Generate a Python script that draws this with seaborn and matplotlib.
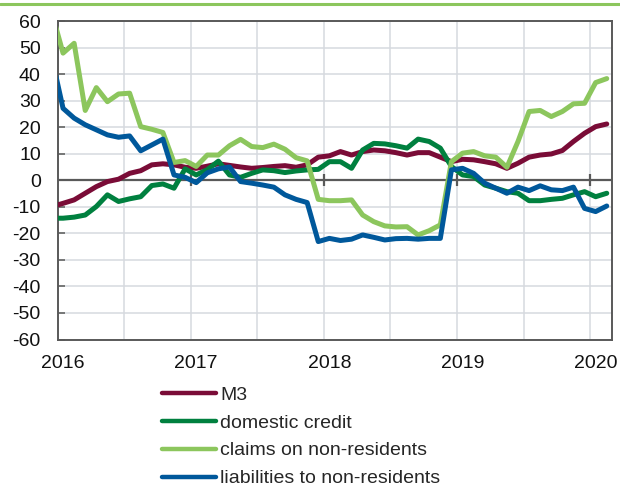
import numpy as np
import pandas as pd
import matplotlib
matplotlib.use("Agg")
import matplotlib.pyplot as plt
from matplotlib.lines import Line2D
import seaborn as sns

# ---------------- data (monthly, Dec 2015 .. Feb 2020) ----------------
months = pd.date_range("2015-12-01", "2020-02-01", freq="MS").strftime("%Y-%m").tolist()

m3 = [-9.9, -8.7, -7.4, -4.9, -2.4, -0.5, 0.4, 2.6, 3.6, 5.8, 6.2, 5.8, 4.9,
      4.5, 5.3, 6.2, 5.6, 5.0, 4.5, 4.8, 5.2, 5.5, 4.9, 5.8, 8.7,
      9.2, 10.8, 9.5, 10.8, 11.4, 11.1, 10.4, 9.5, 10.4, 10.4, 8.7, 7.0,
      7.9, 7.7, 7.0, 6.2, 4.5, 6.4, 8.7, 9.5, 9.9, 11.2, 14.6, 17.7,
      20.2, 21.2]
domestic_credit = [-14.3, -14.3, -13.9, -13.1, -9.9, -5.5, -8.0, -7.0, -6.2, -2.0, -1.4, -3.0, 4.3,
                   2.0, 4.0, 7.2, 2.0, 1.1, 2.6, 3.9, 3.6, 2.9, 3.5, 3.9, 4.1,
                   7.0, 7.0, 4.5, 11.4, 13.9, 13.7, 13.0, 12.1, 15.5, 14.6, 12.1, 5.2,
                   2.0, 1.4, -1.8, -3.0, -4.3, -4.9, -7.7, -7.7, -7.2, -6.8, -5.5, -4.3,
                   -6.2, -4.9]
claims_non_res = [63.0, 47.9, 51.6, 26.3, 34.9, 29.6, 32.5, 32.8, 20.2, 19.2, 18.0, 6.7, 7.4,
                  5.2, 9.5, 9.5, 13.0, 15.4, 12.7, 12.3, 13.6, 11.7, 8.5, 7.3, -7.2,
                  -7.7, -7.7, -7.4, -13.1, -15.6, -17.2, -17.6, -17.5, -20.6, -19.0, -16.8, 7.0,
                  10.2, 10.8, 9.2, 8.7, 4.9, 14.6, 25.9, 26.3, 24.0, 25.9, 28.8, 29.0,
                  36.8, 38.3]
liabilities_non_res = [46.0, 27.1, 23.4, 20.9, 19.0, 17.1, 16.2, 16.7, 11.1, 13.3, 15.5, 2.0, 1.1,
                       -0.9, 2.8, 4.3, 5.0, -0.5, -1.1, -1.8, -2.6, -5.5, -7.2, -8.4, -23.1,
                       -21.9, -22.7, -22.2, -20.6, -21.5, -22.5, -22.0, -21.9, -22.2, -21.9, -21.9, 3.9,
                       4.5, 2.6, -1.1, -3.0, -4.9, -2.6, -3.9, -2.1, -3.6, -3.9, -2.6, -10.6,
                       -11.8, -9.7]

series_names = ["M3", "domestic credit", "claims on non-residents", "liabilities to non-residents"]
series_values = [m3, domestic_credit, claims_non_res, liabilities_non_res]
series_colors = ["#7a0c37", "#00803f", "#8cc65d", "#00589b"]

y_ticks = list(range(-60, 61, 10))
year_labels = ["2016", "2017", "2018", "2019", "2020"]

# ---------------- build frame ----------------
# x position = category index, Jan 2016 = 0
xpos = np.arange(len(months)) - 1
df = pd.concat([pd.DataFrame({"x": xpos, "value": v, "series": n})
                for n, v in zip(series_names, series_values)], ignore_index=True)

sns.set_style("white")
plt.rcParams["font.family"] = ["Liberation Sans", "DejaVu Sans"]

W, H = 620, 487
fig = plt.figure(figsize=(W / 100, H / 100), dpi=100)
L, R, T, B = 57.5, 612.3, 21.0, 339.5
ax = fig.add_axes([L / W, 1 - B / H, (R - L) / W, (B - T) / H])

grid_col = "#d6dadf"
axis_col = "#595959"

# vertical gridlines at half-year category boundaries
year_starts = [months.index(y + "-01") - 1 for y in year_labels]
half_years = [p + 6 for p in year_starts[:-1]] + year_starts[1:]
for gx in sorted(half_years):
    ax.axvline(gx - 0.5, color=grid_col, lw=1.1, zorder=0)

for name, col in zip(series_names, series_colors):
    sns.lineplot(data=df[df["series"] == name], x="x", y="value", color=col,
                 linewidth=3.6, label=name, ax=ax, zorder=3,
                 solid_capstyle="round", solid_joinstyle="round")

ax.set_xlim(-0.5, 49.5)
ax.set_ylim(-60, 60)
ax.set_yticks(y_ticks)
ax.set_yticklabels([str(t) for t in y_ticks])
ax.yaxis.grid(True, color=grid_col, lw=1.1, zorder=0)
ax.set_axisbelow(True)

# zero line with year tick marks
ax.axhline(0, color=axis_col, lw=1.6, zorder=2)
ax.plot([p - 0.5 for p in year_starts[1:]], [0] * 4, ls="none", marker="|",
        markersize=9, markeredgewidth=1.6, color=axis_col, zorder=2)

ax.set_xticks(year_starts)
ax.set_xticklabels(year_labels)
ax.tick_params(axis="x", length=0, pad=11, labelsize=14, colors="#111111")
ax.tick_params(axis="y", direction="in", length=5, width=1.1, color=axis_col,
               pad=12, labelsize=14, labelcolor="#111111", left=True)
ax.set_xlabel("")
ax.set_ylabel("")
for s in ax.spines.values():
    s.set_visible(True)
    s.set_color(axis_col)
    s.set_linewidth(1.4)

leg = ax.legend(loc="upper left", bbox_to_anchor=(161.7 / W, 1 - 386 / H),
                bbox_transform=fig.transFigure, frameon=False, borderaxespad=0,
                borderpad=0, handlelength=2.78, handletextpad=0.22,
                labelspacing=0.53, fontsize=14)
for h in leg.get_lines():
    h.set_linewidth(3.2)
    h.set_solid_capstyle("round")

# decorative green rule at top
fig.add_artist(Line2D([0, 1], [1 - 3.5 / H] * 2, transform=fig.transFigure,
                      color="#8cc65d", lw=2.2))

fig.savefig("out.png", dpi=100)
